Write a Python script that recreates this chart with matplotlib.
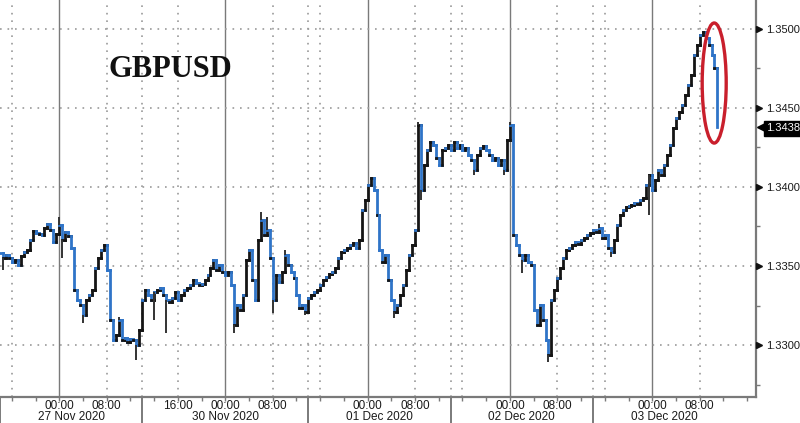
import numpy as np
import matplotlib
matplotlib.use("Agg")
import matplotlib.pyplot as plt
import matplotlib.transforms as mtransforms
from matplotlib.collections import LineCollection
from matplotlib.patches import Ellipse
from matplotlib import font_manager

# ---------------- data ----------------
# trading-hour axis: 0 = 27 Nov 2020 00:00, half-hour samples
start_hour = -10.0
step_hours = 0.5
prices = [
    1.33582, 1.33551, 1.33570, 1.33551, 1.33525, 1.33538, 1.33506, 1.33563, 1.33589, 1.33601,
    1.33665, 1.33722, 1.33709, 1.33703, 1.33696, 1.33741, 1.33766, 1.33728, 1.33652, 1.33703,
    1.33760, 1.33665, 1.33715, 1.33690, 1.33614, 1.33348, 1.33285, 1.33253, 1.33190, 1.33285,
    1.33316, 1.33348, 1.33487, 1.33551, 1.33601, 1.33633, 1.33475, 1.33158, 1.33032, 1.33063,
    1.33158, 1.33032, 1.33044, 1.33019, 1.33038, 1.33032, 1.33000, 1.33095, 1.33285, 1.33348,
    1.33316, 1.33285, 1.33335, 1.33348, 1.33361, 1.33316, 1.33285, 1.33272, 1.33297, 1.33335,
    1.33285, 1.33316, 1.33348, 1.33361, 1.33380, 1.33411, 1.33392, 1.33380, 1.33386, 1.33411,
    1.33443, 1.33487, 1.33538, 1.33475, 1.33506, 1.33462, 1.33443, 1.33462, 1.33380, 1.33127,
    1.33253, 1.33222, 1.33316, 1.33538, 1.33601, 1.33411, 1.33285, 1.33665, 1.33791, 1.33696,
    1.33728, 1.33551, 1.33285, 1.33443, 1.33399, 1.33462, 1.33570, 1.33506, 1.33462, 1.33424,
    1.33316, 1.33234, 1.33253, 1.33209, 1.33297, 1.33316, 1.33335, 1.33348, 1.33380, 1.33411,
    1.33430, 1.33449, 1.33462, 1.33487, 1.33551, 1.33589, 1.33601, 1.33614, 1.33633, 1.33646,
    1.33614, 1.33665, 1.33854, 1.33918, 1.34013, 1.34057, 1.33981, 1.33823, 1.33601, 1.33525,
    1.33570, 1.33411, 1.33285, 1.33209, 1.33253, 1.33316, 1.33380, 1.33475, 1.33570, 1.33633,
    1.33728, 1.34392, 1.33981, 1.34139, 1.34234, 1.34285, 1.34266, 1.34184, 1.34139, 1.34234,
    1.34247, 1.34266, 1.34234, 1.34285, 1.34247, 1.34266, 1.34234, 1.34247, 1.34203, 1.34171,
    1.34108, 1.34203, 1.34247, 1.34260, 1.34234, 1.34203, 1.34171, 1.34184, 1.34139, 1.34171,
    1.34108, 1.34297, 1.34392, 1.33696, 1.33633, 1.33570, 1.33538, 1.33570, 1.33525, 1.33506,
    1.33222, 1.33127, 1.33253, 1.33158, 1.33032, 1.32937, 1.33285, 1.33348, 1.33424, 1.33487,
    1.33551, 1.33601, 1.33614, 1.33633, 1.33652, 1.33639, 1.33665, 1.33677, 1.33696, 1.33709,
    1.33728, 1.33715, 1.33741, 1.33677, 1.33696, 1.33614, 1.33589, 1.33665, 1.33760, 1.33823,
    1.33854, 1.33873, 1.33880, 1.33886, 1.33899, 1.33892, 1.33918, 1.33930, 1.34013, 1.34076,
    1.33981, 1.34044, 1.34108, 1.34076, 1.34139, 1.34203, 1.34266, 1.34373, 1.34437, 1.34475,
    1.34519, 1.34582, 1.34646, 1.34709, 1.34835, 1.34899, 1.34962, 1.34981, 1.34943, 1.34899,
    1.34835, 1.34753, 1.34380,
]
wick_hours = [-9.5, 0.5, 4, 13, 16, 18, 29.5, 36, 41.5, 56.5, 61, 70, 75, 78, 82.5, 93, 99.5,
              0, 10, 34, 35, 38, 60.5, 76, 91]
wick_prices = [1.33475, 1.33551, 1.33139, 1.32905, 1.33158, 1.33076, 1.33076, 1.33203, 1.33190,
               1.33171, 1.33918, 1.34076, 1.34076, 1.33456, 1.32892, 1.33557, 1.33823,
               1.33810, 1.33177, 1.33842, 1.33810, 1.33601, 1.34411, 1.34411, 1.33766]

midnight_hours = [0, 28, 52, 76, 100]
dotted_hours = [-8, 8, 20, 36, 44, 60, 68, 84, 92, 108]
session_breaks = [14, 42, 66, 90]
time_tick_hours = [0, 8, 20, 28, 36, 52, 60, 76, 84, 100, 108]
time_tick_labels = ["00:00", "08:00", "16:00", "00:00", "08:00", "00:00", "08:00",
                    "00:00", "08:00", "00:00", "08:00"]
date_label_hours = [2, 28, 54, 78, 102]
date_labels = ["27 Nov 2020", "30 Nov 2020", "01 Dec 2020", "02 Dec 2020", "03 Dec 2020"]
price_levels = [1.3300, 1.3350, 1.3400, 1.3450, 1.3500]
minor_levels = [1.3275, 1.3325, 1.3375, 1.3425, 1.3475]
last_price = 1.3438
title_text = "GBPUSD"

# ---------------- styling ----------------
BLUE = "#2f74c8"
BLACK = "#151515"
GRID = "#9a9a9a"
AXIS = "#7a7a7a"
TXT = "#1a1a1a"
plt.rcParams["font.family"] = ["Liberation Sans", "DejaVu Sans"]
names = {f.name for f in font_manager.fontManager.ttflist}
NARROW = ["Liberation Sans Narrow", "Liberation Sans"] if "Liberation Sans Narrow" in names \
    else ["Liberation Sans", "DejaVu Sans"]
RSIZE = 9 if NARROW[0] == "Liberation Sans Narrow" else 8

fig = plt.figure(figsize=(8.0, 4.23), dpi=100)
fig.patch.set_facecolor("white")
ax = fig.add_axes([0.0, 26 / 423, 756 / 800, 397 / 423])
ax.set_facecolor("white")
ax.set_xlim(-10, 117.5)
ax.set_ylim(1.326709, 1.351835)

# grid
for h in midnight_hours:
    ax.axvline(h, color=AXIS, lw=1.0, zorder=1)
for h in dotted_hours + session_breaks:
    ax.axvline(h, color=GRID, lw=1.2, ls=(0, (1, 3.5)), zorder=1)
for p in price_levels:
    ax.axhline(p, color=GRID, lw=1.2, ls=(0, (1, 3.5)), zorder=1)

# price series drawn as stepped bars
hours = start_hour + step_hours * np.arange(len(prices))
pr = np.asarray(prices)
segs, cols = [], []
for i in range(len(pr) - 1):
    c = BLUE if pr[i + 1] < pr[i] else BLACK
    segs.append([(hours[i], pr[i]), (hours[i + 1], pr[i])])
    cols.append(BLACK if i % 2 else BLUE)
    segs.append([(hours[i + 1], pr[i]), (hours[i + 1], pr[i + 1])])
    cols.append(c)
ax.add_collection(LineCollection(segs, colors=cols, linewidths=2.0, zorder=3,
                                 capstyle="projecting", joinstyle="miter"))
for wh, wp in zip(wick_hours, wick_prices):
    idx = int(round((wh - start_hour) / step_hours))
    ax.plot([wh, wh], [pr[idx], wp], color="#333333", lw=1.4, zorder=3,
            solid_capstyle="butt")

# red ellipse highlight
ax.add_patch(Ellipse((110.45, 1.34658), 4.05, 0.0076, fill=False,
                     ec="#c91f2c", lw=2.4, zorder=5))

# title
ax.text(0.143, 0.806, title_text, transform=ax.transAxes, family="Liberation Serif",
        fontweight="bold", fontsize=22, color="#111111", va="baseline", ha="left")

# spines
for s in ("top", "left"):
    ax.spines[s].set_visible(False)
for s in ("bottom", "right"):
    ax.spines[s].set_color(AXIS)
    ax.spines[s].set_linewidth(1.6)

# x ticks: small ticks every 4 hours, labels drawn manually
ax.set_xticks(np.arange(-8, 117, 4))
ax.tick_params(axis="x", which="major", length=3, width=1, color=AXIS,
               direction="out", labelbottom=False)
# y ticks: small minor dashes on the right
ax.yaxis.tick_right()
ax.set_yticks(minor_levels)
ax.tick_params(axis="y", which="major", length=3, width=1, color=AXIS,
               direction="out", labelright=False, labelleft=False, left=False)

tx = mtransforms.blended_transform_factory(ax.transData, ax.transAxes)
ty = mtransforms.blended_transform_factory(ax.transAxes, ax.transData)

for h, lab in zip(time_tick_hours, time_tick_labels):
    ax.annotate(lab, xy=(h, 0), xycoords=tx, xytext=(0, -8.4), textcoords="offset points",
                ha="center", va="baseline", fontsize=8.5, color=TXT, annotation_clip=False)
for h, lab in zip(date_label_hours, date_labels):
    ax.annotate(lab, xy=(h, 0), xycoords=tx, xytext=(0, -16.2), textcoords="offset points",
                ha="center", va="baseline", fontsize=8.5, color=TXT, annotation_clip=False)
for h in session_breaks + [-10]:
    ax.plot([h, h], [0, -0.08], transform=tx, color=AXIS, lw=1.4, clip_on=False)

# right axis labels with triangle markers
ax.plot([1.004] * len(price_levels), price_levels, transform=ty, ls="none",
        marker=">", ms=4.5, color="#111111", clip_on=False, zorder=6)
for p in price_levels:
    ax.annotate(f"{p:.4f}", xy=(1.0, p), xycoords=ty, xytext=(7.2, -3.2),
                textcoords="offset points", ha="left", va="baseline", fontsize=RSIZE,
                family=NARROW, color=TXT, annotation_clip=False)

# last price tag
ax.plot([1.0075], [last_price], transform=ty, marker="<", ms=7, color="black",
        ls="none", clip_on=False, zorder=6)
ax.annotate(f"{last_price:.4f}", xy=(1.0, last_price), xycoords=ty, xytext=(7.6, -3.2),
            textcoords="offset points", ha="left", va="baseline", fontsize=RSIZE,
            family=NARROW, color="white", annotation_clip=False,
            bbox=dict(boxstyle="square,pad=0.22", fc="black", ec="black"))

fig.savefig("out.png", dpi=100, facecolor="white")
